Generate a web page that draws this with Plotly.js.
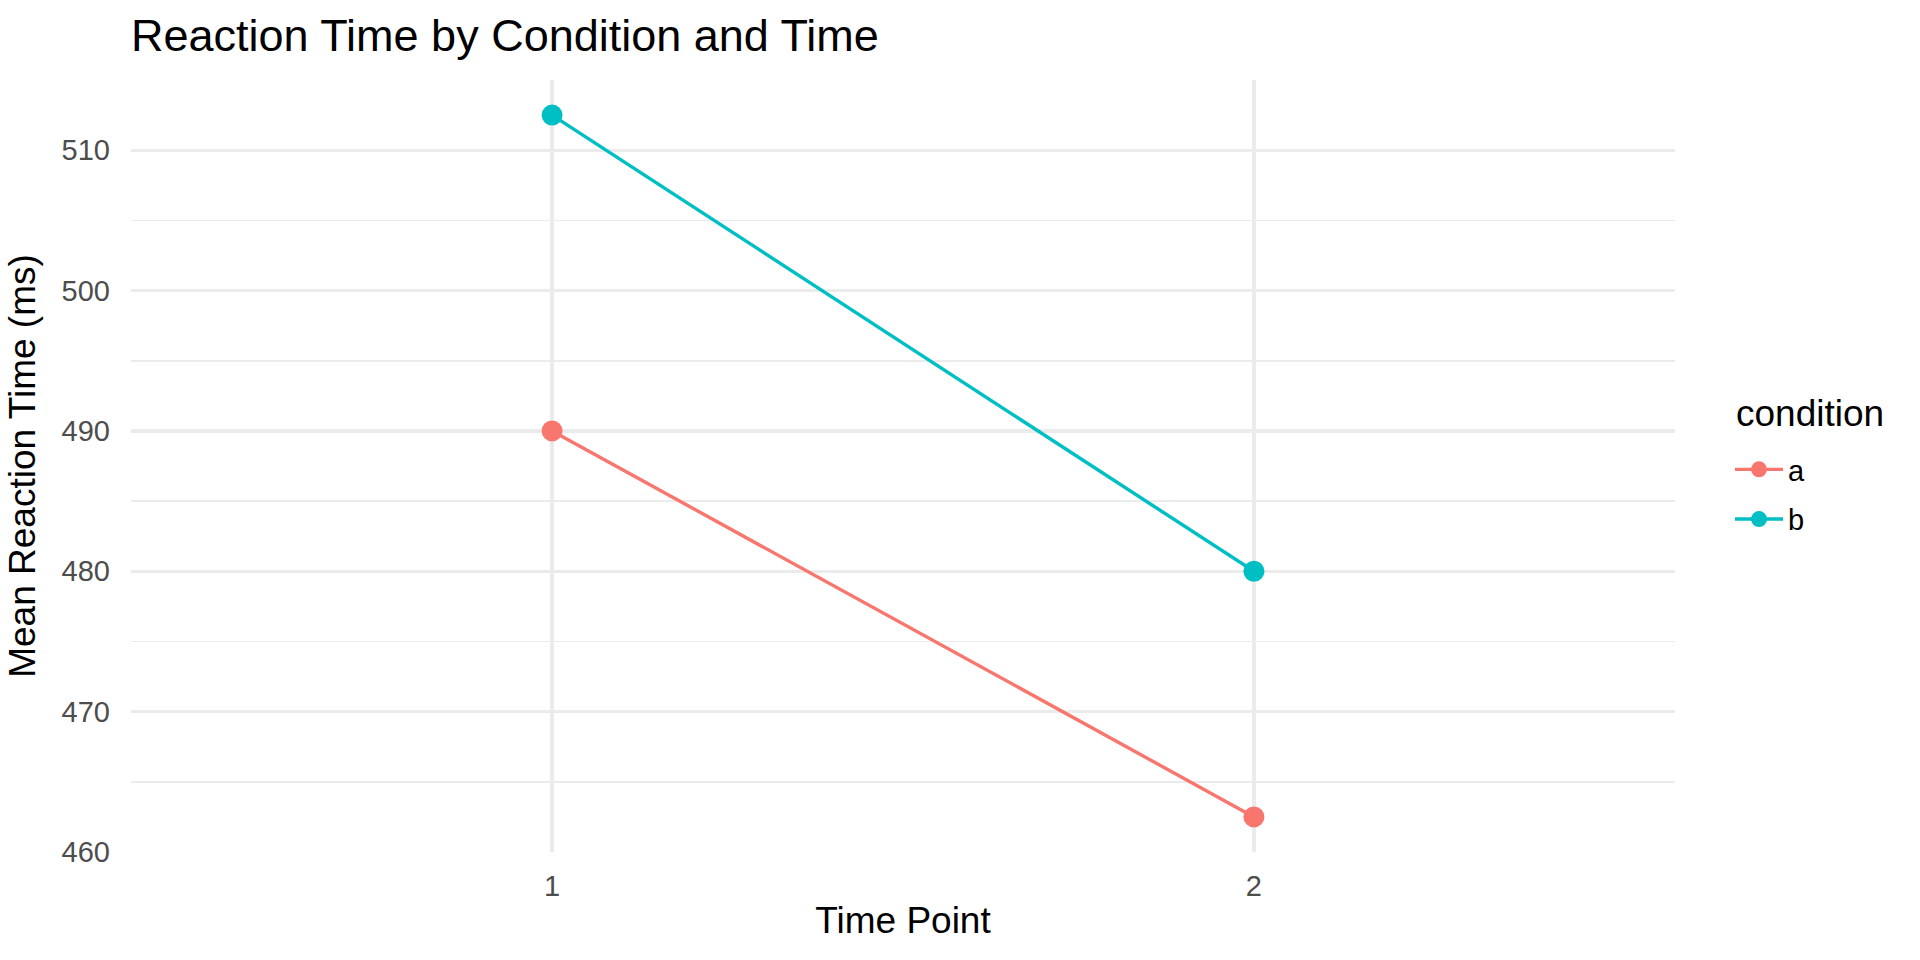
<!DOCTYPE html>
<html>
<head>
<meta charset="utf-8">
<script src="https://cdn.plot.ly/plotly-3.0.1.min.js"></script>
<style>
  html, body { margin: 0; padding: 0; background: #fff; }
  #chart { width: 1920px; height: 960px; }
</style>
</head>
<body>
<div id="chart"></div>
<script>
// Data
const timePoints = [1, 2];
const conditionNames = ['a', 'b'];
const meanRtA = [490, 462.5];
const meanRtB = [512.5, 480];
const yTicks = [460, 470, 480, 490, 500, 510];

const colors = { a: '#F8766D', b: '#00BFC4' };
const font = 'Liberation Sans, Arial, sans-serif';

function lineTrace(name, y) {
    return {
        x: timePoints,
        y: y,
        name: name,
        legendgroup: name,
        type: 'scatter',
        mode: 'lines+markers',
        line: { color: colors[name], width: 3.4 },
        marker: { color: colors[name], size: 21 }
    };
}

const traces = [
    lineTrace(conditionNames[0], meanRtA),
    lineTrace(conditionNames[1], meanRtB)
];

const layout = {
    width: 1920,
    height: 960,
    paper_bgcolor: '#fff',
    plot_bgcolor: '#fff',
    font: { family: font, color: '#4D4D4D', size: 29 },
    margin: { l: 131, r: 245, t: 80, b: 108 },
    title: {
        text: 'Reaction Time by Condition and Time',
        font: { family: font, size: 45, color: '#000' },
        x: 131 / 1920,
        xanchor: 'left',
        xref: 'container',
        y: 1 - 35 / 960,
        yanchor: 'middle',
        yref: 'container'
    },
    xaxis: {
        range: [0.4, 2.6],
        tickvals: timePoints,
        ticktext: timePoints.map(String),
        showgrid: true,
        gridcolor: '#EBEBEB',
        gridwidth: 3.2,
        zeroline: false,
        showline: false,
        ticks: '',
        ticklabelstandoff: 14,
        tickfont: { size: 29, color: '#4D4D4D' },
        title: { text: 'Time Point', font: { size: 37, color: '#000' }, standoff: 6 }
    },
    yaxis: {
        range: [460, 515],
        tickvals: yTicks,
        showgrid: true,
        gridcolor: '#EBEBEB',
        gridwidth: 3.2,
        zeroline: false,
        showline: false,
        ticks: '',
        ticklabelstandoff: 20,
        tickfont: { size: 29, color: '#4D4D4D' },
        minor: { tick0: 465, dtick: 10, showgrid: true, gridcolor: '#EBEBEB', gridwidth: 1.6 },
        title: { text: 'Mean Reaction Time (ms)', font: { size: 37, color: '#000' }, standoff: 14 }
    },
    showlegend: true,
    legend: {
        font: { size: 29, color: '#000' },
        xref: 'container',
        yref: 'container',
        x: 1730 / 1920,
        xanchor: 'left',
        y: 1 - 444 / 960,
        yanchor: 'top',
        bgcolor: 'rgba(0,0,0,0)',
        tracegroupgap: 9,
        itemwidth: 48
    },
    annotations: [{
        text: 'condition',
        xref: 'paper',
        yref: 'paper',
        x: (1734 - 131) / (1920 - 131 - 245),
        xanchor: 'left',
        y: 1 - (413 - 80) / (960 - 80 - 108),
        yanchor: 'middle',
        showarrow: false,
        font: { size: 37, color: '#000' }
    }]
};

Plotly.newPlot('chart', traces, layout, { displayModeBar: false, staticPlot: true });
</script>
</body>
</html>
